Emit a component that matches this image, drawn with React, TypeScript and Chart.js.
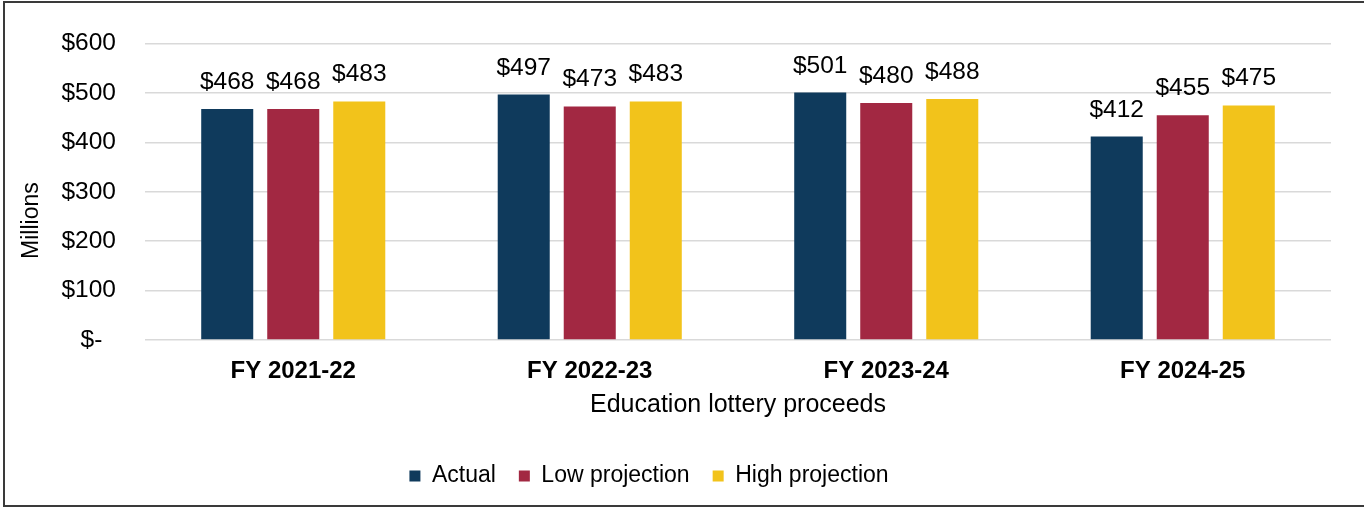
import React, { useEffect, useRef } from "react";
import { Chart, registerables } from "chart.js";

Chart.register(...registerables);

const categories = ["FY 2021-22", "FY 2022-23", "FY 2023-24", "FY 2024-25"];
const actual = [468, 497, 501, 412];
const lowProjection = [468, 473, 480, 455];
const highProjection = [483, 483, 488, 475];
const seriesNames = ["Actual", "Low projection", "High projection"];
const seriesColors = ["#0F3A5C", "#A22842", "#F2C31B"];
const yMin = 0;
const yMax = 600;
const yStep = 100;
const xTitle = "Education lottery proceeds";
const yTitle = "Millions";

const FONT = '"Liberation Sans", Arial, Helvetica, sans-serif';

const OFFSET_X = -33;
const CANVAS_W = 1364 - OFFSET_X;
const CANVAS_H = 508;

const dataLabels = {
  id: "dataLabels",
  afterDatasetsDraw(chart: any) {
    const { ctx } = chart;
    ctx.save();
    ctx.font = `24.5px ${FONT}`;
    ctx.fillStyle = "#000";
    ctx.textAlign = "center";
    ctx.textBaseline = "alphabetic";
    chart.data.datasets.forEach((ds: any, i: number) => {
      const meta = chart.getDatasetMeta(i);
      meta.data.forEach((el: any, j: number) => {
        ctx.fillText("$" + ds.data[j], el.x, el.y - 20);
      });
    });
    ctx.restore();
  },
};

export default function App() {
  const canvasRef = useRef<HTMLCanvasElement | null>(null);

  useEffect(() => {
    if (!canvasRef.current) return;
    Chart.defaults.font.family = FONT;
    Chart.defaults.color = "#000";
    const seriesData = [actual, lowProjection, highProjection];
    const chart = new Chart(canvasRef.current, {
      type: "bar",
      data: {
        labels: categories,
        datasets: seriesNames.map((name, i) => ({
          label: name,
          data: seriesData[i],
          backgroundColor: seriesColors[i],
          borderWidth: 0,
          categoryPercentage: 0.668,
          barPercentage: 0.788,
        })),
      },
      options: {
        animation: false,
        responsive: false,
        devicePixelRatio: 1,
        layout: { padding: { top: 40, bottom: 10.5, left: 0, right: 33 } },
        plugins: {
          tooltip: { enabled: false },
          legend: {
            position: "bottom",
            labels: {
              boxWidth: 11,
              boxHeight: 11,
              padding: 23,
              color: "#000",
              font: { size: 23, family: FONT },
            },
          },
        },
        scales: {
          x: {
            grid: { display: false, drawTicks: false },
            border: { display: false },
            ticks: {
              padding: 16.5,
              font: { size: 24, weight: "bold", family: FONT },
              color: "#000",
            },
            title: {
              display: true,
              text: xTitle,
              color: "#000",
              font: { size: 25, family: FONT },
              padding: { top: 0, bottom: 21 },
            },
            afterFit: (s: any) => {
              s.height = 101.5;
            },
          },
          y: {
            min: yMin,
            max: yMax,
            grid: { color: "#D9D9D9", lineWidth: 1.5, drawTicks: false },
            border: { display: false },
            ticks: {
              stepSize: yStep,
              padding: 29,
              font: { size: 24.5, family: FONT },
              color: "#000",
              callback: (v: any) => (Number(v) === 0 ? "$-  " : "$" + v),
            },
            title: {
              display: true,
              text: yTitle + "         ",
              color: "#000",
              font: { size: 23, family: FONT },
              padding: { top: 38.7 - OFFSET_X - 21, bottom: 0 },
            },
            afterFit: (s: any) => {
              s.width = 145 - OFFSET_X;
            },
          },
        },
      },
      plugins: [dataLabels],
    });
    return () => chart.destroy();
  }, []);

  return (
    <div
      style={{
        position: "absolute",
        left: 0,
        top: 0,
        width: 1364,
        height: 508,
        overflow: "hidden",
        background: "#fff",
      }}
    >
      <canvas
        ref={canvasRef}
        width={CANVAS_W}
        height={CANVAS_H}
        style={{ position: "absolute", left: OFFSET_X, top: 0, width: CANVAS_W, height: CANVAS_H }}
      />
      <div
        style={{
          position: "absolute",
          left: 3,
          top: 1,
          width: 1380,
          height: 506,
          boxSizing: "border-box",
          border: "2px solid #3A3A3A",
          pointerEvents: "none",
        }}
      />
    </div>
  );
}
